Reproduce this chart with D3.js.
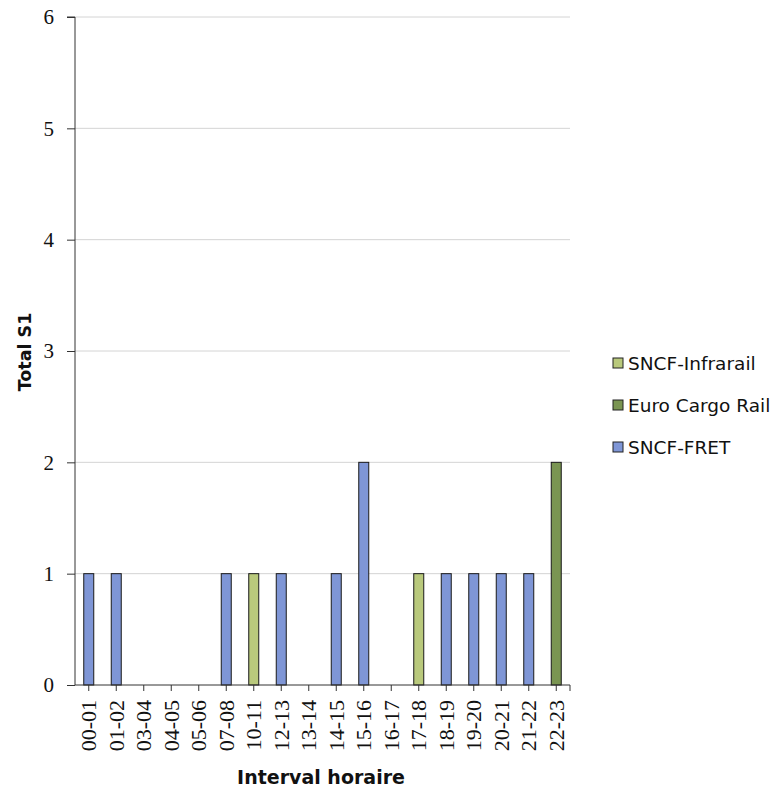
<!DOCTYPE html>
<html><head><meta charset="utf-8">
<script src="https://cdn.jsdelivr.net/npm/d3@7"></script>
<style>body{margin:0;background:#fff}</style>
</head><body>
<svg id="c" width="778" height="788"></svg>
<script>
const categories = ["00-01","01-02","03-04","04-05","05-06","07-08","10-11","12-13","13-14","14-15","15-16","16-17","17-18","18-19","19-20","20-21","21-22","22-23"];
const sncfFret      = [1,1,0,0,0,1,0,1,0,1,2,0,0,1,1,1,1,0];
const euroCargoRail = [0,0,0,0,0,0,0,0,0,0,0,0,0,0,0,0,0,2];
const sncfInfrarail = [0,0,0,0,0,0,1,0,0,0,0,0,1,0,0,0,0,0];
const yTicks = [0,1,2,3,4,5,6];
const seriesNames = ["SNCF-FRET","Euro Cargo Rail","SNCF-Infrarail"];
const seriesColors = ["#7f96d6","#7a9552","#b9c97c"];

const svg = d3.select("#c");
const L = 75, R = 570, T = 17, B = 685;
const x = d3.scaleBand().domain(categories).range([L, R]);
const y = d3.scaleLinear().domain([0, 6]).range([B, T]);

// gridlines
svg.append("g").selectAll("line").data(yTicks.filter(d => d > 0)).join("line")
  .attr("x1", L).attr("x2", R).attr("y1", d => y(d)).attr("y2", d => y(d))
  .attr("stroke", "#d4d4d4").attr("stroke-width", 1);

// stacked bars
const rows = categories.map((c, i) => ({cat: c, "SNCF-FRET": sncfFret[i], "Euro Cargo Rail": euroCargoRail[i], "SNCF-Infrarail": sncfInfrarail[i]}));
const stack = d3.stack().keys(seriesNames)(rows);
const bw = 10;
stack.forEach((s, si) => {
  svg.append("g").selectAll("rect").data(s.filter(d => d[1] > d[0])).join("rect")
    .attr("x", d => x(d.data.cat) + x.bandwidth() / 2 - bw / 2)
    .attr("y", d => y(d[1]))
    .attr("width", bw)
    .attr("height", d => y(d[0]) - y(d[1]))
    .attr("fill", seriesColors[si])
    .attr("stroke", "#1a1a1a").attr("stroke-width", 1);
});

// y axis
const yAxis = d3.axisLeft(y).tickValues(yTicks).tickSize(8).tickPadding(13).tickFormat(d3.format("d"));
const yg = svg.append("g").attr("transform", `translate(${L},0)`).call(yAxis);
yg.select(".domain").attr("stroke", "#333").attr("d", `M-8,${T}H0V${B}`);
yg.selectAll(".tick line").attr("stroke", "#333");
yg.selectAll(".tick text").attr("font-family", "'Liberation Serif', serif").attr("font-size", 21).attr("fill", "#111");

// x axis
const xAxis = d3.axisBottom(x).tickSize(6).tickPadding(6);
const xg = svg.append("g").attr("transform", `translate(0,${B})`).call(xAxis);
xg.attr("font-family", "'Liberation Serif', serif");
xg.select(".domain").attr("stroke", "#333").attr("d", `M${L},0H${R}V6`);
xg.selectAll(".tick line").attr("stroke", "#333");
xg.selectAll(".tick text")
  .attr("font-family", "'Liberation Serif', serif").attr("font-size", 22).attr("fill", "#111")
  .attr("transform", "rotate(-90)")
  .attr("text-anchor", "end")
  .attr("x", -15).attr("y", 0).attr("dy", "0.33em");

// axis titles
svg.append("text").attr("x", 321).attr("y", 784).attr("text-anchor", "middle")
  .attr("font-family", "'DejaVu Sans', sans-serif").attr("font-weight", "bold").attr("font-size", 19)
  .attr("fill", "#111").text("Interval horaire");
svg.append("text").attr("transform", "translate(31,352) rotate(-90)").attr("text-anchor", "middle")
  .attr("font-family", "'DejaVu Sans', sans-serif").attr("font-weight", "bold").attr("font-size", 17.5)
  .attr("fill", "#111").text("Total S1");

// legend (reverse order)
const legendItems = seriesNames.map((n, i) => ({n, c: seriesColors[i]})).reverse();
const lg = svg.append("g");
legendItems.forEach((d, i) => {
  const yy = 363 + i * 42;
  lg.append("rect").attr("x", 613).attr("y", yy - 5).attr("width", 10).attr("height", 10)
    .attr("fill", d.c).attr("stroke", "#222").attr("stroke-width", 1);
  lg.append("text").attr("x", 628).attr("y", yy).attr("dy", "0.36em")
    .attr("font-family", "'DejaVu Sans', sans-serif").attr("font-size", 18.5).attr("fill", "#111").text(d.n);
});
</script>
</body></html>
